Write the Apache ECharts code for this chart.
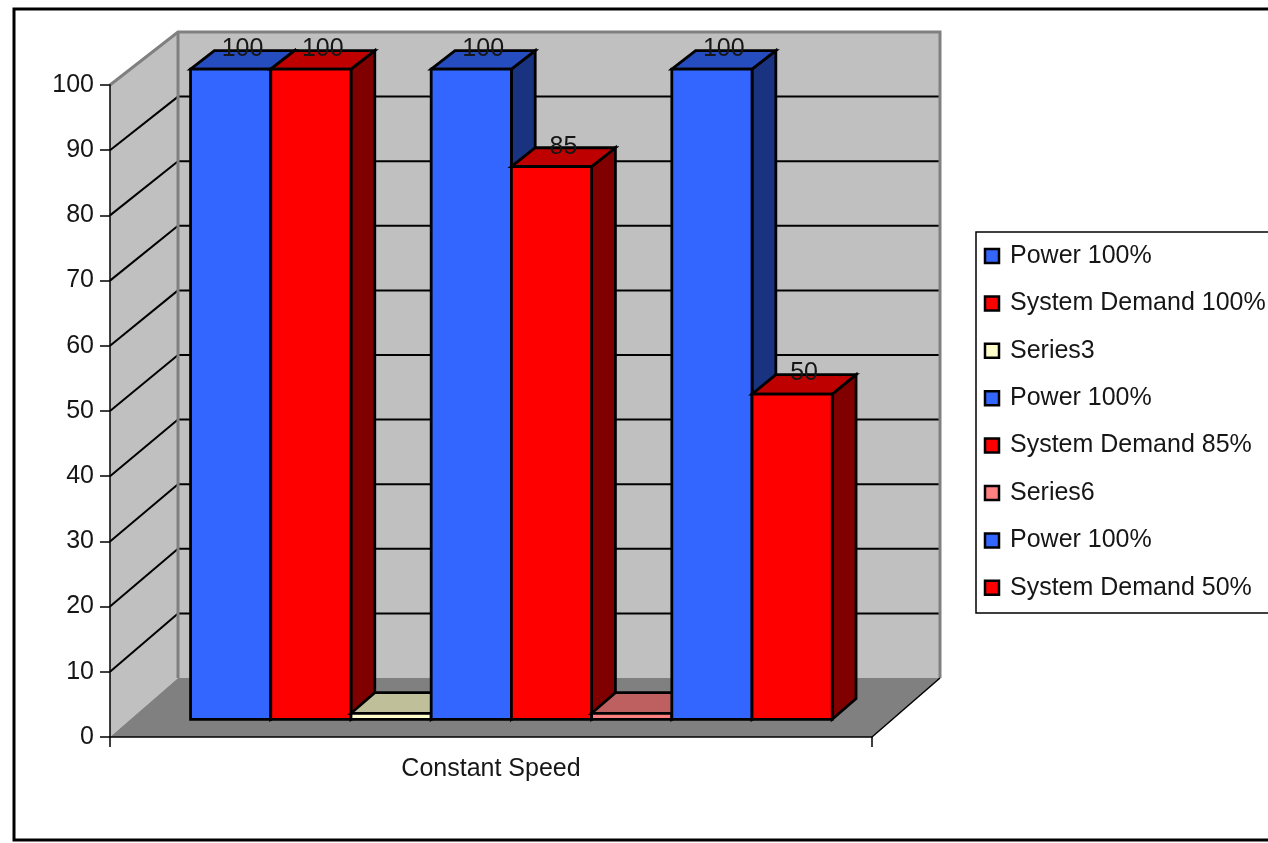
<!DOCTYPE html>
<html>
<head>
<meta charset="utf-8">
<title>Constant Speed</title>
<script src="https://cdn.jsdelivr.net/npm/echarts@6/dist/echarts.min.js"></script>
<style>
  html, body { margin: 0; padding: 0; background: #ffffff; }
  #chart { width: 1268px; height: 843px; }
</style>
</head>
<body>
<div id="chart"></div>
<script>
// ---- data ----
const categories = ['Constant Speed'];
const seriesNames = [
  'Power 100%', 'System Demand 100%', 'Series3',
  'Power 100%', 'System Demand 85%', 'Series6',
  'Power 100%', 'System Demand 50%'
];
const seriesValues = [100, 100, 0, 100, 85, 0, 100, 50];
const yMin = 0, yMax = 100, yStep = 10;

// ---- styling ----
const palette = ['#3366FF', '#FF0000', '#FFFFCC', '#3366FF', '#FF0000', '#FF8080', '#3366FF', '#FF0000'];
const FONT_FAMILY = '"Liberation Sans", Arial, sans-serif';
const FONT_SIZE = 25;
const FONT = FONT_SIZE + 'px ' + FONT_FAMILY;
const TEXT_COLOR = '#161616';
const WALL = '#C0C0C0', FLOOR = '#808080', WALL_EDGE = '#808080';

// depth of the plot box: offset from the front plane to the back wall
const DEPTH_X = 68, DEPTH_Y_TOP = -53, DEPTH_Y_BOTTOM = -59;
// columns sit between these depth fractions
const BAR_FRONT = 0.30, BAR_BACK = 0.65;
const GAP = 1.5;      // gap width, in bar widths
const MIN_H = 6;      // a zero column is still drawn as a thin slab

function shade(hex, k) {
  const n = parseInt(hex.slice(1), 16);
  const r = Math.round(((n >> 16) & 255) * k);
  const g = Math.round(((n >> 8) & 255) * k);
  const b = Math.round((n & 255) * k);
  return 'rgb(' + r + ',' + g + ',' + b + ')';
}

// map a point of the front plane (pixels) to depth t (0 = front, 1 = back wall)
function project(px, py, t, grid) {
  const frac = (grid.y + grid.height - py) / grid.height;
  const dy = DEPTH_Y_BOTTOM + (DEPTH_Y_TOP - DEPTH_Y_BOTTOM) * frac;
  return [px + t * DEPTH_X, py + t * dy];
}

// side wall, back wall, floor and gridlines
function renderWalls(params, api) {
  const g = params.coordSys;
  const L = g.x, R = g.x + g.width, T = g.y, B = g.y + g.height;
  const bTL = project(L, T, 1, g), bTR = project(R, T, 1, g);
  const bBL = project(L, B, 1, g), bBR = project(R, B, 1, g);
  const children = [];
  children.push({ type: 'polygon', shape: { points: [[L, B], [L, T], bTL, bBL] },
    style: { fill: WALL, stroke: null } });
  children.push({ type: 'polygon', shape: { points: [bTL, bTR, bBR, bBL] },
    style: { fill: WALL, stroke: null } });
  children.push({ type: 'polygon', shape: { points: [[L, B], [R, B], bBR, bBL] },
    style: { fill: FLOOR, stroke: null } });
  for (let v = yMin + yStep; v < yMax; v += yStep) {
    const py = api.coord([0, v])[1];
    const a = project(L, py, 1, g), b = project(R, py, 1, g);
    children.push({ type: 'line', shape: { x1: L, y1: py, x2: a[0], y2: a[1] },
      style: { stroke: '#000', lineWidth: 2 } });
    children.push({ type: 'line', shape: { x1: a[0], y1: a[1], x2: b[0], y2: b[1] },
      style: { stroke: '#000', lineWidth: 2 } });
  }
  children.push({ type: 'polyline', shape: { points: [[L, T], bTL, bTR, bBR] },
    style: { stroke: WALL_EDGE, lineWidth: 3, fill: null } });
  children.push({ type: 'line', shape: { x1: bTL[0], y1: bTL[1], x2: bBL[0], y2: bBL[1] },
    style: { stroke: WALL_EDGE, lineWidth: 3 } });
  children.push({ type: 'line', shape: { x1: R, y1: B, x2: bBR[0], y2: bBR[1] },
    style: { stroke: '#000', lineWidth: 1.5 } });
  return { type: 'group', children: children };
}

// one 3D column per series
function makeColumnRenderer(idx) {
  return function (params, api) {
    const g = params.coordSys;
    const cat = api.value(0), val = api.value(1);
    const base = api.coord([cat, 0]);
    const band = api.size([1, 0])[0];
    const w = band / (seriesValues.length + GAP);
    const left = base[0] - band / 2 + w * GAP / 2 + idx * w;
    const right = left + w;
    const yBase = base[1];
    let yTop = api.coord([cat, val])[1];
    if (yBase - yTop < MIN_H) yTop = yBase - MIN_H;

    const FTL = project(left, yTop, BAR_FRONT, g), FTR = project(right, yTop, BAR_FRONT, g);
    const FBL = project(left, yBase, BAR_FRONT, g), FBR = project(right, yBase, BAR_FRONT, g);
    const BTL = project(left, yTop, BAR_BACK, g), BTR = project(right, yTop, BAR_BACK, g);
    const BBR = project(right, yBase, BAR_BACK, g);

    const c = palette[idx];
    const edge = { stroke: '#000', lineWidth: 2.8, lineJoin: 'miter' };
    const children = [
      { type: 'polygon', shape: { points: [FTR, BTR, BBR, FBR] },
        style: Object.assign({ fill: shade(c, 0.5) }, edge) },
      { type: 'polygon', shape: { points: [FTL, FTR, BTR, BTL] },
        style: Object.assign({ fill: shade(c, 0.75) }, edge) },
      { type: 'polygon', shape: { points: [FTL, FTR, FBR, FBL] },
        style: Object.assign({ fill: c }, edge) }
    ];
    if (val > 0) {
      children.push({
        type: 'text',
        x: (FTL[0] + FTR[0] + BTL[0] + BTR[0]) / 4,
        y: BTL[1] - 1,
        style: { text: String(val), font: FONT, fill: TEXT_COLOR, align: 'center', verticalAlign: 'middle' }
      });
    }
    return { type: 'group', children: children };
  };
}

const columnSeries = seriesValues.map(function (v, i) {
  return {
    type: 'custom',
    name: seriesNames[i],
    coordinateSystem: 'cartesian2d',
    renderItem: makeColumnRenderer(i),
    encode: { x: 0, y: 1 },
    data: [[0, v]],
    z: 10 + i,
    silent: true
  };
});

// legend drawn as a boxed list (series names repeat, so it is laid out by hand)
const LEGEND_X = 976, LEGEND_Y = 232, LEGEND_ROW = 47.4, LEGEND_FIRST = 256;
const legendChildren = [{
  type: 'rect', shape: { x: LEGEND_X, y: LEGEND_Y, width: 320, height: 381 },
  style: { fill: '#fff', stroke: '#000', lineWidth: 1.5 }
}];
seriesNames.forEach(function (name, i) {
  const cy = LEGEND_FIRST + i * LEGEND_ROW;
  legendChildren.push({
    type: 'rect', shape: { x: 985, y: cy - 7, width: 14, height: 14 },
    style: { fill: palette[i], stroke: '#000', lineWidth: 2.5 }
  });
  legendChildren.push({
    type: 'text', x: 1010, y: cy,
    style: { text: name, font: FONT, fill: TEXT_COLOR, align: 'left', verticalAlign: 'middle' }
  });
});

const chart = echarts.init(document.getElementById('chart'), null, { renderer: 'canvas' });
chart.setOption({
  backgroundColor: '#ffffff',
  animation: false,
  textStyle: { fontFamily: FONT_FAMILY },
  grid: { left: 110, right: 396, top: 85, bottom: 106, containLabel: false },
  xAxis: {
    type: 'category',
    data: categories,
    boundaryGap: true,
    axisLine: { show: true, lineStyle: { color: '#000', width: 1.5 } },
    axisTick: { show: true, length: 10, lineStyle: { color: '#000', width: 1.5 } },
    axisLabel: { fontSize: FONT_SIZE, color: TEXT_COLOR, margin: 20, fontFamily: FONT_FAMILY },
    splitLine: { show: false },
    z: 20
  },
  yAxis: {
    type: 'value',
    min: yMin, max: yMax, interval: yStep,
    axisLine: { show: true, lineStyle: { color: '#000', width: 1.5 } },
    axisTick: { show: true, length: 10, lineStyle: { color: '#000', width: 1.5 } },
    axisLabel: { fontSize: FONT_SIZE, color: TEXT_COLOR, margin: 16, fontFamily: FONT_FAMILY },
    splitLine: { show: false },
    z: 20
  },
  graphic: [
    { type: 'rect', shape: { x: 14, y: 9, width: 1270, height: 831 },
      style: { fill: null, stroke: '#000', lineWidth: 3 }, z: 0 },
    { type: 'group', children: legendChildren, z: 30 }
  ],
  series: [{
    type: 'custom',
    name: 'walls',
    coordinateSystem: 'cartesian2d',
    renderItem: renderWalls,
    encode: { x: 0, y: 1 },
    data: [[0, 0]],
    z: 1,
    silent: true
  }].concat(columnSeries)
});
</script>
</body>
</html>
